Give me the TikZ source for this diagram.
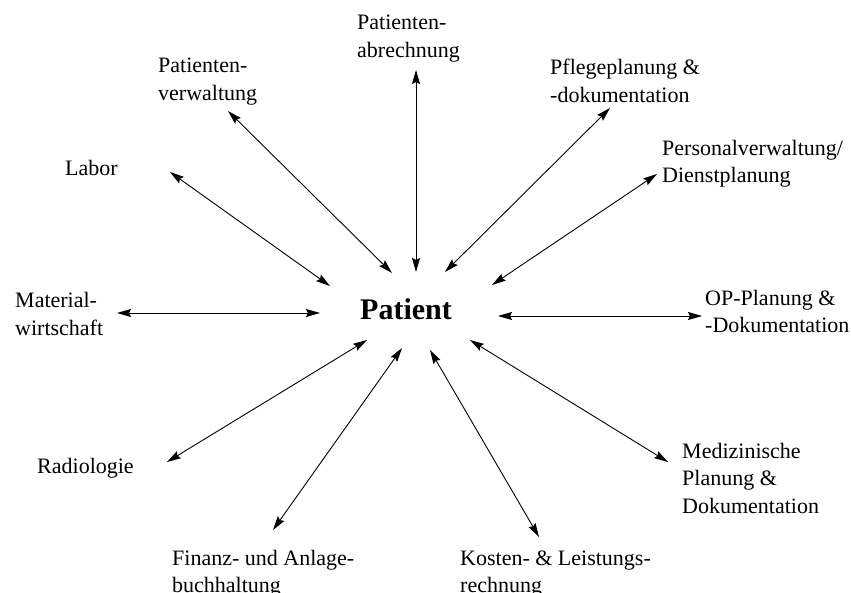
\documentclass[tikz,border=0pt]{standalone}
\usepackage{fontspec}
\setmainfont{Liberation Serif}
\usetikzlibrary{arrows.meta}
\begin{document}
\begin{tikzpicture}[x=1pt,y=-1pt,
  lbl/.style={anchor=base west,inner sep=0pt,align=left,font=\fontsize{22}{27.5}\selectfont},
  link/.style={line width=0.9pt,{Stealth[length=14pt,width=8pt,inset=2pt]}-{Stealth[length=14pt,width=8pt,inset=2pt]}}]
\useasboundingbox (0,0) rectangle (851,593);
\node[anchor=base,inner sep=0pt,font=\fontsize{30}{36}\selectfont\bfseries] (P) at (406,320) {Patient};
% base anchor = baseline of the last line
\node[lbl] (abr) at (357,57.5) {Patienten-\\abrechnung};
\node[lbl] (verw) at (158,100.5) {Patienten-\\verwaltung};
\node[lbl] (lab) at (65,176) {Labor};
\node[lbl] (mat) at (15,335.5) {Material-\\wirtschaft};
\node[lbl] (rad) at (37,473) {Radiologie};
\node[lbl] (fin) at (172,592.5) {Finanz- und Anlage-\\buchhaltung};
\node[lbl] (kos) at (460,592.5) {Kosten- \& Leistungs-\\rechnung};
\node[lbl] (med) at (682,513) {Medizinische\\Planung \&\\Dokumentation};
\node[lbl] (op) at (705,333) {OP-Planung \&\\-Dokumentation};
\node[lbl] (pers) at (662,183) {Personalverwaltung/\\Dienstplanung};
\node[lbl] (pfl) at (550,102.5) {Pflegeplanung \&\\-dokumentation};
\coordinate (abrA) at (416,70);  \coordinate (abrB) at (416,272);
\coordinate (verwA) at (228,111); \coordinate (verwB) at (392,273);
\coordinate (labA) at (170,172); \coordinate (labB) at (330,286);
\coordinate (matA) at (117,313); \coordinate (matB) at (320,313);
\coordinate (radA) at (167,462); \coordinate (radB) at (367,340);
\coordinate (finA) at (273,530); \coordinate (finB) at (402,348);
\coordinate (kosA) at (539,537); \coordinate (kosB) at (430,350);
\coordinate (medA) at (668,462); \coordinate (medB) at (470,340);
\coordinate (opA) at (702,316); \coordinate (opB) at (498,316);
\coordinate (persA) at (657,174); \coordinate (persB) at (492,285);
\coordinate (pflA) at (610,108); \coordinate (pflB) at (445,272);
\foreach \n in {abr,verw,lab,mat,rad,fin,kos,med,op,pers,pfl}
  \draw[link] (\n A) -- (\n B);
\end{tikzpicture}
\end{document}
